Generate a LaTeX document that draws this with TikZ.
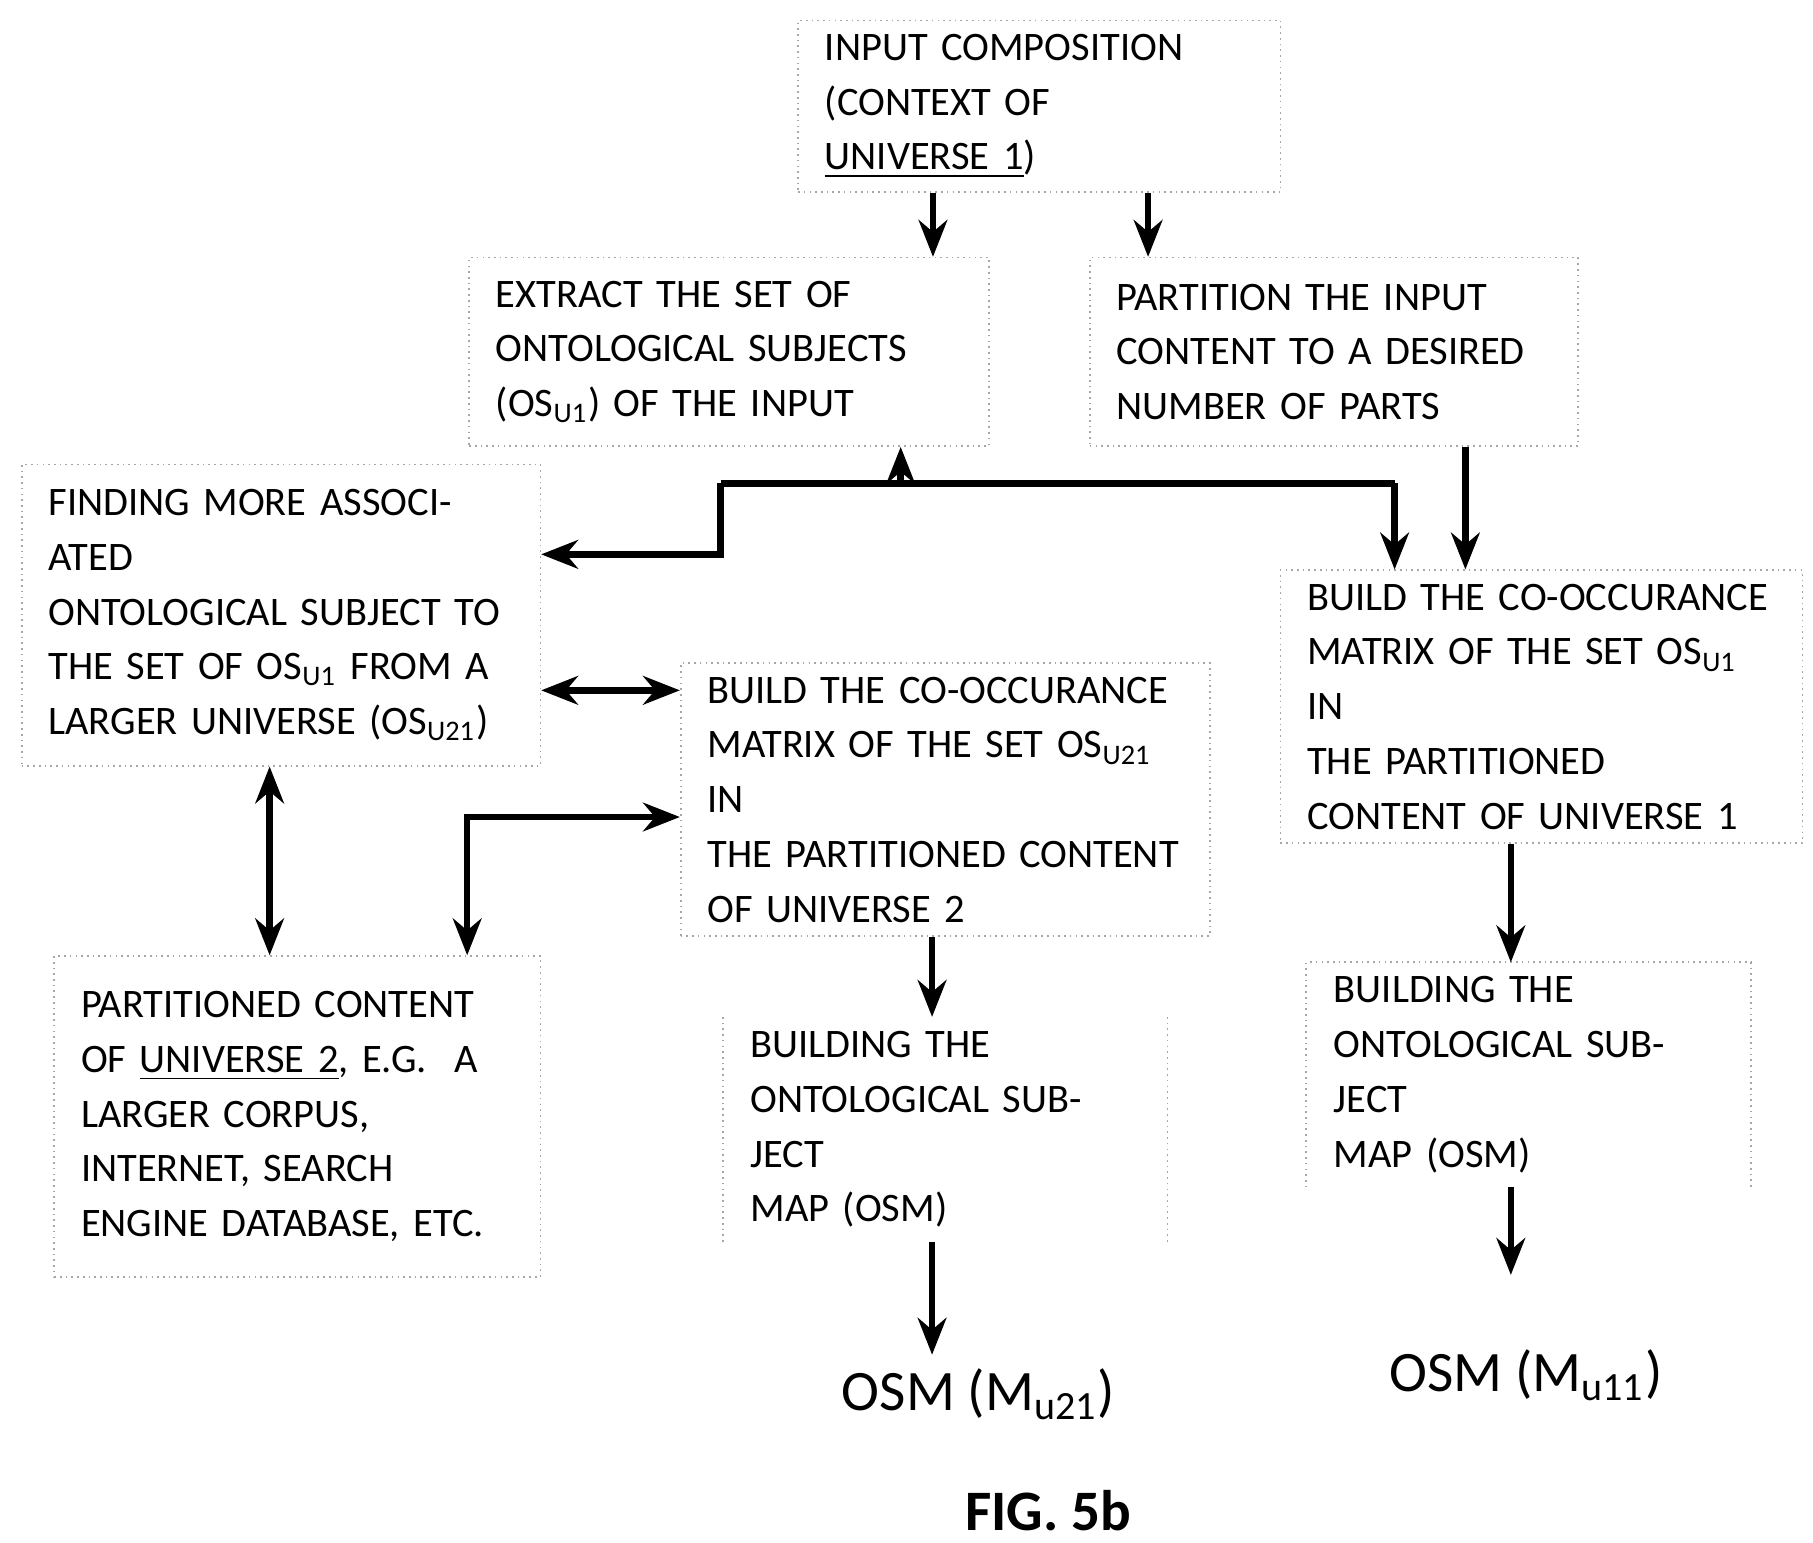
\documentclass[tikz,border=0pt]{standalone}
\usepackage{fontspec}
\setmainfont{Carlito}
\usetikzlibrary{arrows.meta}
\usetikzlibrary{positioning}
\begin{document}
\begin{tikzpicture}[x=0.01cm,y=-0.01cm,
  box/.style={draw=gray!70,densely dotted,thin,anchor=north west,align=left,inner xsep=0.23cm,
    font=\fontsize{9.9}{13.4}\selectfont},
  open/.style={anchor=north west,align=left,inner xsep=0.23cm,font=\fontsize{9.9}{13.4}\selectfont},
  big/.style={font=\fontsize{14}{17}\selectfont},
  arr/.style={line width=1.6pt,-{Stealth[length=9pt,width=7pt]}},
  both/.style={line width=1.6pt,{Stealth[length=9pt,width=7pt]}-{Stealth[length=9pt,width=7pt]}}]
\useasboundingbox (0,0) rectangle (1560,1327);
\node[box,text width=3.69cm,minimum height=1.1cm] (input) at (686,17)
  {INPUT COMPOSITION\\(CONTEXT OF \underline{UNIVERSE 1})};
\node[box,text width=4.01cm,minimum height=1.62cm] (extract) at (403,221)
  {EXTRACT THE SET OF\\ONTOLOGICAL SUBJECTS\\(OS\textsubscript{U1}) OF THE INPUT};
\node[box,text width=3.74cm,minimum height=1.62cm] (part) at (937,221)
  {PARTITION THE INPUT\\CONTENT TO A DESIRED\\NUMBER OF PARTS};
\node[box,text width=4.0cm,minimum height=2.59cm] (find) at (18,399)
  {FINDING MORE ASSOCIATED\\ONTOLOGICAL SUBJECT TO\\THE SET OF OS\textsubscript{U1} FROM A\\LARGER UNIVERSE (OS\textsubscript{U21})\\[0.35cm]};
\node[box,text width=4.09cm,minimum height=2.1cm] (build2) at (585,570)
  {BUILD THE CO-OCCURANCE\\MATRIX OF THE SET OS\textsubscript{U21} IN\\THE PARTITIONED CONTENT\\OF UNIVERSE 2};
\node[box,text width=4.03cm,minimum height=2.12cm] (build1) at (1101,490)
  {BUILD THE CO-OCCURANCE\\MATRIX OF THE SET OS\textsubscript{U1} IN\\THE PARTITIONED\\CONTENT OF UNIVERSE 1};
\node[box,text width=3.72cm,minimum height=2.76cm] (corpus) at (46,822)
  {PARTITIONED CONTENT\\OF \underline{UNIVERSE 2}, E.G.\ \ A\\LARGER CORPUS,\\INTERNET, SEARCH\\ENGINE DATABASE, ETC.};
\node[open,text width=3.35cm,minimum height=1.78cm] (osm2) at (622,875)
  {BUILDING THE\\ONTOLOGICAL SUBJECT\\MAP (OSM)};
\node[open,text width=3.35cm,minimum height=1.77cm] (osm1) at (1124,828)
  {BUILDING THE\\ONTOLOGICAL SUBJECT\\MAP (OSM)};
\draw[gray!70,densely dotted,thin] (osm2.north west) -- (osm2.south west) (osm2.north east) -- (osm2.south east);
\draw[gray!70,densely dotted,thin] (osm1.south west) -- (osm1.north west) -- (osm1.north east) -- (osm1.south east);
\node[big] (mu21) at (842,1200) {OSM (M\textsubscript{u21})};
\node[big] (mu11) at (1313,1183) {OSM (M\textsubscript{u11})};
\node[big,font=\bfseries\fontsize{14}{17}\selectfont] (fig) at (902,1300) {FIG. 5b};
% connectors
\draw[arr] ([xshift=-0.915cm]input.south) coordinate (a1) -- (a1 |- extract.north);
\draw[arr] ([xshift=0.935cm]input.south) coordinate (a2) -- (a2 |- part.north);
\draw[arr] ([xshift=1.13cm]part.south) coordinate (a3) -- (a3 |- build1.north);
\coordinate (j1) at (620,416);
\coordinate (j2) at (775,416);
\draw[line width=1.6pt] (j1) -- (1200,416) coordinate (j3);
\draw[arr] (j2) -- (j2 |- extract.south);
\draw[arr] (j3) -- (j3 |- build1.north);
\draw[arr] (j1) -- (620,477) coordinate (j4) -- (j4 -| find.east);
\draw[both] (find.east |- 0,594) coordinate (b1) -- (b1 -| build2.west);
\draw[both] (find.south -| 232,0) coordinate (b2) -- (b2 |- corpus.north);
\draw[both] (corpus.north -| 402,0) -- (402,703) coordinate (b3) -- (b3 -| build2.west);
\draw[arr] (build2.south -| 802,0) coordinate (c1) -- (c1 |- osm2.north);
\draw[arr] (osm2.south -| 802,0) coordinate (c2) -- (c2 |- mu21.north);
\draw[arr] (build1.south -| 1300,0) coordinate (c3) -- (c3 |- osm1.north);
\draw[arr] (osm1.south -| 1300,0) coordinate (c4) -- (1300,1097);
\end{tikzpicture}
\end{document}
